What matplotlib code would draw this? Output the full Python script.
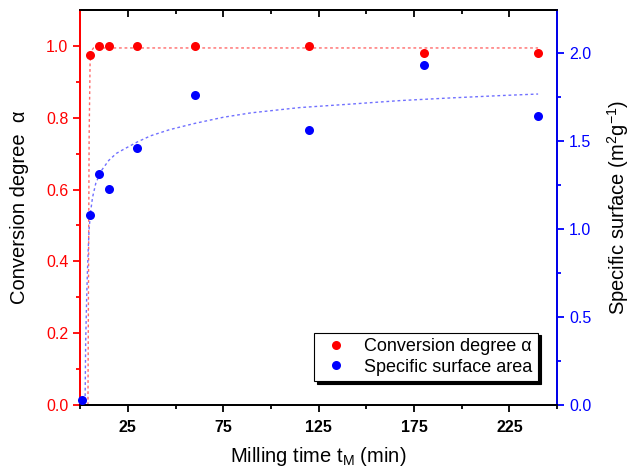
import numpy as np
import matplotlib
matplotlib.use("Agg")
import matplotlib.pyplot as plt

plt.rcParams['font.family'] = ['Liberation Sans', 'DejaVu Sans']
plt.rcParams['mathtext.default'] = 'regular'

# measured data
t_alpha = [5, 10, 15, 30, 60, 120, 180, 240]
alpha = [0.975, 1.0, 1.0, 1.0, 1.0, 1.0, 0.98, 0.98]

t_surf = [1, 5, 10, 15, 30, 60, 120, 180, 240]
surf = [0.03, 1.08, 1.31, 1.23, 1.46, 1.76, 1.56, 1.93, 1.64]

# fit curves
t_alpha_fit = [4.1, 4.7, 5.2, 5.6, 6.2, 7, 240]
alpha_fit = [0.0, 0.74, 0.95, 0.975, 0.988, 0.994, 0.994]

t_surf_fit = [2.6, 2.9, 3.4, 3.8, 4.3, 4.7, 5.5, 6.5, 8.2, 11, 15, 19, 24, 30,
              37, 47, 60, 75, 89.5, 115, 142, 168, 194.5, 220, 240]
surf_fit = [0.02, 0.36, 0.6, 0.75, 0.9, 1.0, 1.1, 1.18, 1.26, 1.33, 1.39, 1.43,
            1.46, 1.495, 1.53, 1.565, 1.60, 1.635, 1.66, 1.69, 1.71, 1.73,
            1.745, 1.758, 1.767]

fig = plt.figure(figsize=(6.31, 4.70), dpi=100)
ax1 = fig.add_axes([0.127, 0.138, 0.756, 0.841])
ax2 = ax1.twinx()

ax1.plot(t_alpha_fit, alpha_fit, color='#ff6a6a', lw=1, ls=(0, (2, 2)))
ax2.plot(t_surf_fit, surf_fit, color='#7070ff', lw=1, ls=(0, (2, 2)))
p1, = ax1.plot(t_alpha, alpha, 'o', color='red', ms=6.5, mec='none',
               label='Conversion degree \u03b1', clip_on=False, zorder=5)
p2, = ax2.plot(t_surf, surf, 'o', color='blue', ms=6.5, mec='none',
               label='Specific surface area', clip_on=False, zorder=5)

ax1.set_xlim(0, 250)
ax1.set_ylim(0, 1.1)
ax2.set_ylim(0, 2.245)

ax1.set_xticks([25, 75, 125, 175, 225])
ax1.set_xticks([0, 50, 100, 150, 200, 250], minor=True)
ax1.set_yticks(np.arange(0, 1.01, 0.2))
ax1.set_yticks(np.arange(0.1, 1.1, 0.2), minor=True)
ax2.set_yticks([0.0, 0.5, 1.0, 1.5, 2.0])
ax2.set_yticks([0.25, 0.75, 1.25, 1.75], minor=True)

for lab in ax1.get_xticklabels():
    lab.set_fontweight('bold')

ax1.tick_params(axis='x', which='both', direction='out', width=1.3,
                labelsize=11.5, pad=6)
ax1.tick_params(axis='x', which='major', length=5)
ax1.tick_params(axis='x', which='minor', length=3)

# top axis: ticks pointing inward, no labels
top = ax1.secondary_xaxis('top')
top.set_xticks([25, 75, 125, 175, 225])
top.set_xticks([0, 50, 100, 150, 200, 250], minor=True)
top.tick_params(axis='x', which='both', direction='in', width=1.3,
                labeltop=False)
top.tick_params(axis='x', which='major', length=5)
top.tick_params(axis='x', which='minor', length=3)
top.spines['top'].set_linewidth(1.3)

ax1.tick_params(axis='y', which='both', direction='out', colors='red',
                width=1.3, labelsize=11.5)
ax1.tick_params(axis='y', which='major', length=5)
ax1.tick_params(axis='y', which='minor', length=3)
ax2.tick_params(axis='y', which='both', direction='out', colors='blue',
                width=1.3, labelsize=11.5)
ax2.tick_params(axis='y', which='major', length=5)
ax2.tick_params(axis='y', which='minor', length=3)

for a in (ax1, ax2):
    for s in a.spines.values():
        s.set_linewidth(1.3)
ax2.spines['left'].set_color('red')
ax1.spines['left'].set_color('red')
ax2.spines['right'].set_color('blue')

ax1.set_xlabel('Milling time t$_M$ (min)', fontsize=14.5, labelpad=7)
ax1.set_ylabel('Conversion degree  \u03b1', fontsize=14.5, labelpad=12)
ax2.set_ylabel('Specific surface (m$^2$g$^{-1}$)', fontsize=14.5, labelpad=10)

leg = ax2.legend(handles=[p1, p2], loc='lower right',
                 bbox_to_anchor=(0.96, 0.061), borderaxespad=0,
                 fontsize=13, frameon=True, fancybox=False,
                 shadow={'color': 'black', 'alpha': 1},
                 handletextpad=0.7, borderpad=0.3, labelspacing=0.2,
                 handlelength=1.8)
leg.get_frame().set_edgecolor('black')
leg.get_frame().set_linewidth(0.8)

fig.savefig('out.png', dpi=100)
